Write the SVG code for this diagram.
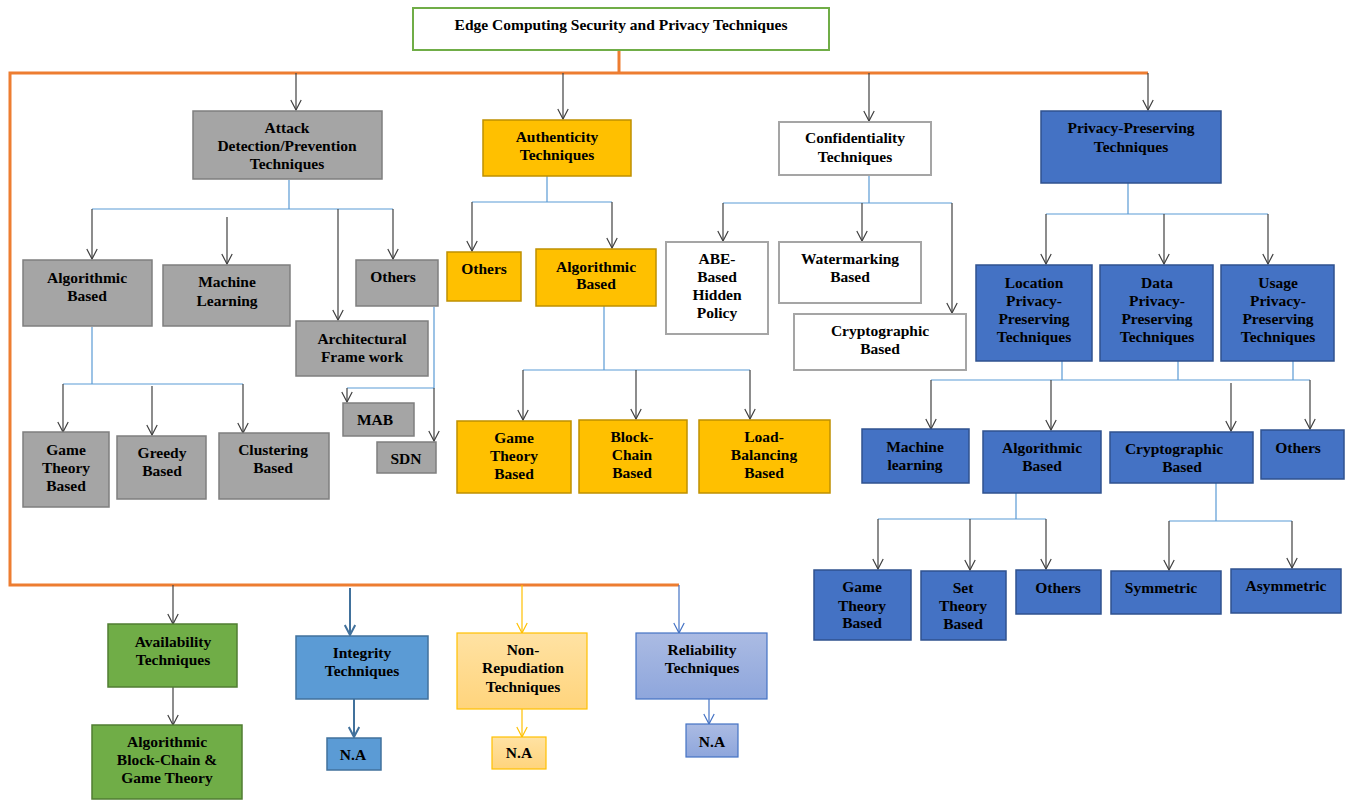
<svg xmlns="http://www.w3.org/2000/svg" width="1350" height="800" viewBox="0 0 1350 800">
  <style>
    .t { font-family: "Liberation Serif", "Times New Roman", serif; font-weight: bold; font-size: 15.5px; text-anchor: middle; fill: #000; }
    .gray { fill: #a5a5a5; stroke: #7f7f7f; stroke-width: 1.5; }
    .yel { fill: #ffc000; stroke: #bf9000; stroke-width: 1.5; }
    .wht { fill: #fff; stroke: #a5a5a5; stroke-width: 2; }
    .blu { fill: #4472c4; stroke: #2f528f; stroke-width: 1.5; }
    .grn { fill: #70ad47; stroke: #507e32; stroke-width: 1.5; }
    .int { fill: #5b9bd5; stroke: #41719c; stroke-width: 1.5; }
    .nr { fill: url(#gNr); stroke: #ffc000; stroke-width: 1.2; }
    .rel { fill: url(#gRel); stroke: #4472c4; stroke-width: 1.2; }
    .split { fill: none; stroke: #5b9bd5; stroke-width: 1.2; }
    .arr { fill: none; stroke: #404040; stroke-width: 1.2; marker-end: url(#mDk); }
    .arrY { fill: none; stroke: #ffc000; stroke-width: 1.2; marker-end: url(#mY); }
    .arrB { fill: none; stroke: #4472c4; stroke-width: 1.2; marker-end: url(#mB); }
    .arrI { fill: none; stroke: #41719c; stroke-width: 2; marker-end: url(#mI); }
    .trunk { fill: none; stroke: #ed7d31; stroke-width: 3; }
  </style>
  <defs>
    <linearGradient id="gNr" x1="0" y1="0" x2="0" y2="1">
      <stop offset="0" stop-color="#ffe2a3"/>
      <stop offset="1" stop-color="#ffd47c"/>
    </linearGradient>
    <linearGradient id="gRel" x1="0" y1="0" x2="0" y2="1">
      <stop offset="0" stop-color="#abbbe3"/>
      <stop offset="1" stop-color="#8ea6dc"/>
    </linearGradient>
    <marker id="mDk" viewBox="0 0 12 12" refX="11" refY="6" markerWidth="12" markerHeight="12" markerUnits="userSpaceOnUse" orient="auto">
      <path d="M1,0.8 L11,6 L1,11.2" fill="none" stroke="#404040" stroke-width="1.2"/>
    </marker>
    <marker id="mY" viewBox="0 0 12 12" refX="11" refY="6" markerWidth="12" markerHeight="12" markerUnits="userSpaceOnUse" orient="auto">
      <path d="M1,0.8 L11,6 L1,11.2" fill="none" stroke="#ffc000" stroke-width="1.2"/>
    </marker>
    <marker id="mB" viewBox="0 0 12 12" refX="11" refY="6" markerWidth="12" markerHeight="12" markerUnits="userSpaceOnUse" orient="auto">
      <path d="M1,0.8 L11,6 L1,11.2" fill="none" stroke="#4472c4" stroke-width="1.2"/>
    </marker>
    <marker id="mI" viewBox="0 0 12 12" refX="11" refY="6" markerWidth="12" markerHeight="12" markerUnits="userSpaceOnUse" orient="auto">
      <path d="M1,0.8 L11,6 L1,11.2" fill="none" stroke="#41719c" stroke-width="2"/>
    </marker>
  </defs>

  <rect width="1350" height="800" fill="#fff"/>

  <!-- connectors -->
  <g id="connectors">
    <!-- orange trunk -->
    <path class="trunk" d="M619,50 V73"/>
    <path class="trunk" d="M1148,73 H10 V585 H679"/>
    <!-- top-level branches -->
    <path class="arr" d="M296,73 V110"/>
    <path class="arr" d="M563,73 V119"/>
    <path class="arr" d="M869,73 V121"/>
    <path class="arr" d="M1148,73 V110"/>

    <!-- attack detection -->
    <path class="split" d="M289,180 V209 M92,209 H393"/>
    <path class="arr" d="M92,209 V259"/>
    <path class="arr" d="M227,217 V264"/>
    <path class="arr" d="M338,209 V320"/>
    <path class="arr" d="M393,209 V259"/>
    <path class="split" d="M92,327 V384 M63,384 H243"/>
    <path class="arr" d="M63,384 V432"/>
    <path class="arr" d="M152,386 V435"/>
    <path class="arr" d="M243,384 V433"/>
    <path class="split" d="M434,307 V388 H347"/>
    <path class="arr" d="M347,388 V402"/>
    <path class="arr" d="M434,388 V441"/>

    <!-- authenticity -->
    <path class="split" d="M547,176 V202 M472,202 H612"/>
    <path class="arr" d="M472,202 V251"/>
    <path class="arr" d="M612,202 V248"/>
    <path class="split" d="M604,306 V370 M523,370 H750"/>
    <path class="arr" d="M523,370 V420"/>
    <path class="arr" d="M636,370 V419"/>
    <path class="arr" d="M750,370 V419"/>

    <!-- confidentiality -->
    <path class="split" d="M869,175 V203 M723,203 H952"/>
    <path class="arr" d="M723,203 V241"/>
    <path class="arr" d="M862,203 V241"/>
    <path class="arr" d="M952,203 V313"/>

    <!-- privacy preserving -->
    <path class="split" d="M1128,183 V214 M1046,214 H1268"/>
    <path class="arr" d="M1046,214 V264"/>
    <path class="arr" d="M1164,214 V264"/>
    <path class="arr" d="M1268,214 V264"/>
    <path class="split" d="M1062,361 V380 M1178,361 V380 M1293,361 V380 M931,380 H1310"/>
    <path class="arr" d="M931,380 V429"/>
    <path class="arr" d="M1051,380 V430"/>
    <path class="arr" d="M1231,383 V431"/>
    <path class="arr" d="M1310,380 V429"/>
    <path class="split" d="M1016,493 V519 M878,519 H1046"/>
    <path class="arr" d="M878,519 V569"/>
    <path class="arr" d="M970,519 V570"/>
    <path class="arr" d="M1046,519 V569"/>
    <path class="split" d="M1216,483 V521 M1169,521 H1292"/>
    <path class="arr" d="M1169,521 V570"/>
    <path class="arr" d="M1292,521 V568"/>

    <!-- lower branches -->
    <path class="arr" d="M173,585 V624"/>
    <path class="arr" d="M173,687 V725"/>
    <path class="arrI" d="M350,588 V635"/>
    <path class="arrI" d="M354,699 V737"/>
    <path class="arrY" d="M522,585 V633"/>
    <path class="arrY" d="M522,709 V737"/>
    <path class="arrB" d="M679,585 V633"/>
    <path class="arrB" d="M709,699 V724"/>
  </g>

  <!-- root -->
  <g id="root">
    <rect x="413" y="8" width="416" height="42" fill="#fff" stroke="#70ad47" stroke-width="2"/>
    <text class="t" x="621" y="30">Edge Computing Security and Privacy Techniques</text>
  </g>

  <!-- attack detection / prevention -->
  <g id="attack">
    <rect class="gray" x="193" y="111" width="189" height="68"/>
    <text class="t"><tspan x="287" y="133">Attack</tspan><tspan x="287" y="151">Detection/Prevention</tspan><tspan x="287" y="169">Techniques</tspan></text>
  </g>
  <g id="attack-algorithmic">
    <rect class="gray" x="23" y="260" width="129" height="66"/>
    <text class="t"><tspan x="87" y="283">Algorithmic</tspan><tspan x="87" y="301">Based</tspan></text>
  </g>
  <g id="attack-ml">
    <rect class="gray" x="163" y="265" width="127" height="61"/>
    <text class="t"><tspan x="227" y="287">Machine</tspan><tspan x="227" y="306">Learning</tspan></text>
  </g>
  <g id="attack-others">
    <rect class="gray" x="356" y="260" width="82" height="46"/>
    <text class="t" x="393" y="282">Others</text>
  </g>
  <g id="attack-arch">
    <rect class="gray" x="296" y="321" width="132" height="55"/>
    <text class="t"><tspan x="362" y="344">Architectural</tspan><tspan x="362" y="362">Frame work</tspan></text>
  </g>
  <g id="attack-game">
    <rect class="gray" x="23" y="432" width="86" height="75"/>
    <text class="t"><tspan x="66" y="455">Game</tspan><tspan x="66" y="473">Theory</tspan><tspan x="66" y="491">Based</tspan></text>
  </g>
  <g id="attack-greedy">
    <rect class="gray" x="117" y="436" width="89" height="63"/>
    <text class="t"><tspan x="162" y="458">Greedy</tspan><tspan x="162" y="476">Based</tspan></text>
  </g>
  <g id="attack-clustering">
    <rect class="gray" x="219" y="433" width="110" height="66"/>
    <text class="t"><tspan x="273" y="455">Clustering</tspan><tspan x="273" y="473">Based</tspan></text>
  </g>
  <g id="attack-mab">
    <rect class="gray" x="343" y="403" width="71" height="33"/>
    <text class="t" x="375" y="425">MAB</text>
  </g>
  <g id="attack-sdn">
    <rect class="gray" x="377" y="442" width="59" height="31"/>
    <text class="t" x="406" y="464">SDN</text>
  </g>

  <!-- authenticity -->
  <g id="authenticity">
    <rect class="yel" x="483" y="120" width="148" height="56"/>
    <text class="t"><tspan x="557" y="142">Authenticity</tspan><tspan x="557" y="160">Techniques</tspan></text>
  </g>
  <g id="auth-others">
    <rect class="yel" x="447" y="252" width="74" height="49"/>
    <text class="t" x="484" y="274">Others</text>
  </g>
  <g id="auth-algorithmic">
    <rect class="yel" x="536" y="249" width="120" height="57"/>
    <text class="t"><tspan x="596" y="272">Algorithmic</tspan><tspan x="596" y="289">Based</tspan></text>
  </g>
  <g id="auth-game">
    <rect class="yel" x="457" y="421" width="114" height="72"/>
    <text class="t"><tspan x="514" y="443">Game</tspan><tspan x="514" y="461">Theory</tspan><tspan x="514" y="479">Based</tspan></text>
  </g>
  <g id="auth-blockchain">
    <rect class="yel" x="579" y="420" width="108" height="73"/>
    <text class="t"><tspan x="632" y="442">Block-</tspan><tspan x="632" y="460">Chain</tspan><tspan x="632" y="478">Based</tspan></text>
  </g>
  <g id="auth-loadbalancing">
    <rect class="yel" x="699" y="420" width="131" height="73"/>
    <text class="t"><tspan x="764" y="442">Load-</tspan><tspan x="764" y="460">Balancing</tspan><tspan x="764" y="478">Based</tspan></text>
  </g>

  <!-- confidentiality -->
  <g id="confidentiality">
    <rect class="wht" x="779" y="122" width="152" height="53"/>
    <text class="t"><tspan x="855" y="143">Confidentiality</tspan><tspan x="855" y="162">Techniques</tspan></text>
  </g>
  <g id="conf-abe">
    <rect class="wht" x="666" y="242" width="102" height="92"/>
    <text class="t"><tspan x="717" y="264">ABE-</tspan><tspan x="717" y="282">Based</tspan><tspan x="717" y="300">Hidden</tspan><tspan x="717" y="318">Policy</tspan></text>
  </g>
  <g id="conf-watermarking">
    <rect class="wht" x="779" y="242" width="142" height="61"/>
    <text class="t"><tspan x="850" y="264">Watermarking</tspan><tspan x="850" y="282">Based</tspan></text>
  </g>
  <g id="conf-crypto">
    <rect class="wht" x="794" y="314" width="172" height="56"/>
    <text class="t"><tspan x="880" y="336">Cryptographic</tspan><tspan x="880" y="354">Based</tspan></text>
  </g>

  <!-- privacy preserving -->
  <g id="privacy">
    <rect class="blu" x="1041" y="111" width="180" height="72"/>
    <text class="t"><tspan x="1131" y="133">Privacy-Preserving</tspan><tspan x="1131" y="152">Techniques</tspan></text>
  </g>
  <g id="priv-location">
    <rect class="blu" x="976" y="265" width="116" height="96"/>
    <text class="t"><tspan x="1034" y="288">Location</tspan><tspan x="1034" y="306">Privacy-</tspan><tspan x="1034" y="324">Preserving</tspan><tspan x="1034" y="342">Techniques</tspan></text>
  </g>
  <g id="priv-data">
    <rect class="blu" x="1100" y="265" width="113" height="96"/>
    <text class="t"><tspan x="1157" y="288">Data</tspan><tspan x="1157" y="306">Privacy-</tspan><tspan x="1157" y="324">Preserving</tspan><tspan x="1157" y="342">Techniques</tspan></text>
  </g>
  <g id="priv-usage">
    <rect class="blu" x="1221" y="265" width="113" height="96"/>
    <text class="t"><tspan x="1278" y="288">Usage</tspan><tspan x="1278" y="306">Privacy-</tspan><tspan x="1278" y="324">Preserving</tspan><tspan x="1278" y="342">Techniques</tspan></text>
  </g>
  <g id="priv-ml">
    <rect class="blu" x="862" y="429" width="107" height="54"/>
    <text class="t"><tspan x="915" y="452">Machine</tspan><tspan x="915" y="470">learning</tspan></text>
  </g>
  <g id="priv-algorithmic">
    <rect class="blu" x="983" y="431" width="118" height="62"/>
    <text class="t"><tspan x="1042" y="453">Algorithmic</tspan><tspan x="1042" y="471">Based</tspan></text>
  </g>
  <g id="priv-crypto">
    <rect class="blu" x="1110" y="432" width="143" height="51"/>
    <text class="t"><tspan x="1174" y="454">Cryptographic</tspan><tspan x="1182" y="472">Based</tspan></text>
  </g>
  <g id="priv-others">
    <rect class="blu" x="1261" y="430" width="83" height="49"/>
    <text class="t" x="1298" y="453">Others</text>
  </g>
  <g id="priv-game">
    <rect class="blu" x="814" y="570" width="97" height="70"/>
    <text class="t"><tspan x="862" y="592">Game</tspan><tspan x="862" y="611">Theory</tspan><tspan x="862" y="628">Based</tspan></text>
  </g>
  <g id="priv-set">
    <rect class="blu" x="921" y="571" width="85" height="69"/>
    <text class="t"><tspan x="963" y="593">Set</tspan><tspan x="963" y="611">Theory</tspan><tspan x="963" y="629">Based</tspan></text>
  </g>
  <g id="priv-alg-others">
    <rect class="blu" x="1016" y="570" width="85" height="44"/>
    <text class="t" x="1058" y="593">Others</text>
  </g>
  <g id="priv-symmetric">
    <rect class="blu" x="1111" y="571" width="110" height="43"/>
    <text class="t" x="1161" y="593">Symmetric</text>
  </g>
  <g id="priv-asymmetric">
    <rect class="blu" x="1231" y="569" width="110" height="44"/>
    <text class="t" x="1286" y="591">Asymmetric</text>
  </g>

  <!-- availability -->
  <g id="availability">
    <rect class="grn" x="108" y="624" width="129" height="63"/>
    <text class="t"><tspan x="173" y="647">Availability</tspan><tspan x="173" y="665">Techniques</tspan></text>
  </g>
  <g id="avail-methods">
    <rect class="grn" x="92" y="725" width="150" height="74"/>
    <text class="t"><tspan x="167" y="747">Algorithmic</tspan><tspan x="167" y="765">Block-Chain &amp;</tspan><tspan x="167" y="783">Game Theory</tspan></text>
  </g>

  <!-- integrity -->
  <g id="integrity">
    <rect class="int" x="296" y="636" width="132" height="63"/>
    <text class="t"><tspan x="362" y="658">Integrity</tspan><tspan x="362" y="676">Techniques</tspan></text>
  </g>
  <g id="integrity-na">
    <rect class="int" x="327" y="738" width="54" height="32"/>
    <text class="t" x="353" y="760">N.A</text>
  </g>

  <!-- non-repudiation -->
  <g id="nonrepudiation">
    <rect class="nr" x="457" y="633" width="130" height="76"/>
    <text class="t"><tspan x="523" y="655">Non-</tspan><tspan x="523" y="673">Repudiation</tspan><tspan x="523" y="692">Techniques</tspan></text>
  </g>
  <g id="nonrepudiation-na">
    <rect class="nr" x="492" y="737" width="54" height="32"/>
    <text class="t" x="519" y="758">N.A</text>
  </g>

  <!-- reliability -->
  <g id="reliability">
    <rect class="rel" x="636" y="633" width="131" height="66"/>
    <text class="t"><tspan x="702" y="655">Reliability</tspan><tspan x="702" y="673">Techniques</tspan></text>
  </g>
  <g id="reliability-na">
    <rect class="rel" x="686" y="724" width="52" height="33"/>
    <text class="t" x="712" y="747">N.A</text>
  </g>
</svg>
